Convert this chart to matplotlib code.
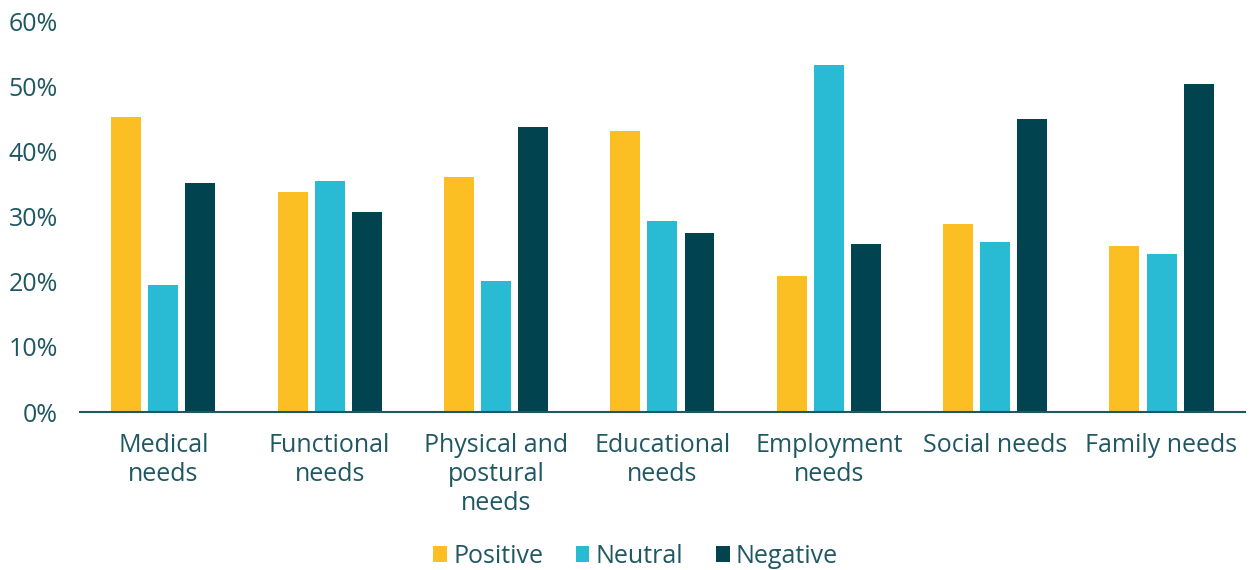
import numpy as np
import matplotlib.pyplot as plt
from matplotlib.ticker import PercentFormatter

categories = ['Medical\nneeds', 'Functional\nneeds', 'Physical and\npostural\nneeds',
              'Educational\nneeds', 'Employment\nneeds', 'Social needs', 'Family needs']
positive = [45.3, 33.8, 36.1, 43.1, 20.9, 28.8, 25.5]
neutral = [19.5, 35.4, 20.1, 29.3, 53.2, 26.1, 24.2]
negative = [35.1, 30.7, 43.7, 27.5, 25.8, 45.0, 50.3]

text_color = '#1F5863'
plt.rcParams['font.family'] = ['Open Sans', 'DejaVu Sans']

fig = plt.figure(figsize=(12.51, 5.70), dpi=100)
ax = fig.add_axes([0.064, 0.277, 0.931, 0.686])

x = np.arange(len(categories))
w = 0.18
step = 0.223
ax.bar(x - step, positive, w, color='#FBBF24', label='Positive')
ax.bar(x, neutral, w, color='#29BBD4', label='Neutral')
ax.bar(x + step, negative, w, color='#01444F', label='Negative')

ax.set_xlim(-0.5, len(categories) - 0.5)
ax.set_ylim(0, 60)
ax.set_yticks(np.arange(0, 61, 10))
ax.yaxis.set_major_formatter(PercentFormatter(decimals=0))
ax.set_xticks(x)
ax.set_xticklabels(categories, linespacing=1.2)

for s in ['top', 'right', 'left']:
    ax.spines[s].set_visible(False)
ax.spines['bottom'].set_color('#1F5863')
ax.spines['bottom'].set_linewidth(1.5)
ax.tick_params(axis='both', length=0, colors=text_color, labelsize=18)
ax.tick_params(axis='x', pad=15)
ax.tick_params(axis='y', pad=16)

leg = fig.legend(*ax.get_legend_handles_labels(), loc='center', bbox_to_anchor=(0.508, 0.024),
                 ncol=3, frameon=False, handlelength=0.55, handleheight=0.55,
                 handletextpad=0.25, columnspacing=1.3, fontsize=18)
for t in leg.get_texts():
    t.set_color(text_color)

plt.savefig('out.png', dpi=100)
